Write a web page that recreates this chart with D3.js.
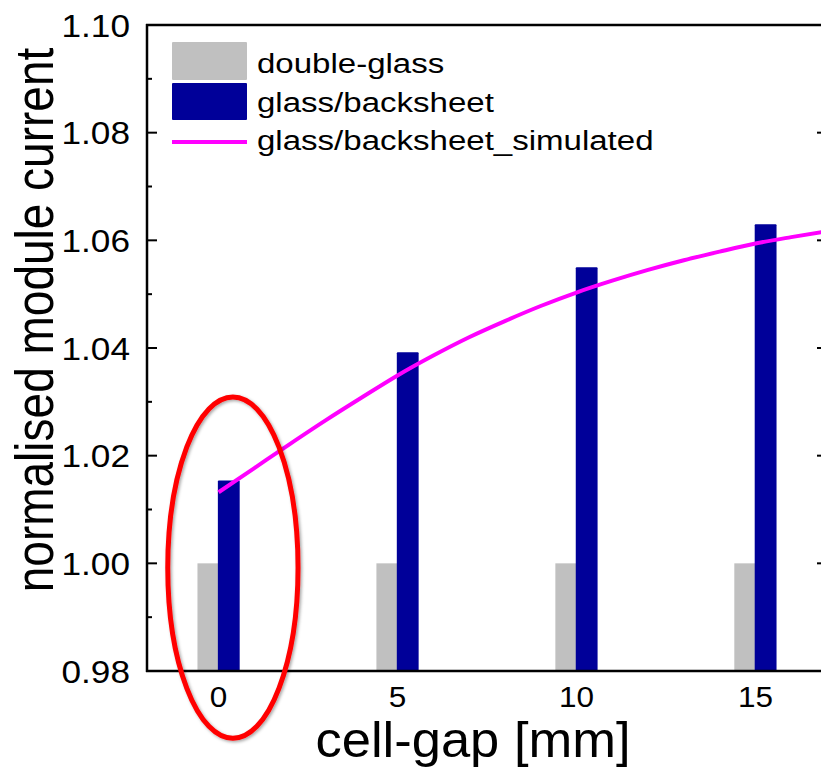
<!DOCTYPE html>
<html>
<head>
<meta charset="utf-8">
<script src="https://cdn.jsdelivr.net/npm/d3@7"></script>
<style>
  body { margin: 0; background: #fff; }
  text { font-family: "Liberation Sans", Arial, sans-serif; fill: #000; }
</style>
</head>
<body>
<svg id="chart" width="821" height="770"></svg>
<script>
// cell gap [mm]
const gaps = [0, 5, 10, 15];
const doubleGlass = [1.0, 1.0, 1.0, 1.0];
const glassBacksheet = [1.0154, 1.0392, 1.055, 1.063];

// simulated curve
const simGap = [0, 1, 2, 3, 4, 5, 6, 7, 8, 9, 10, 11, 12, 13, 14, 15, 16, 17];
const simValue = [1.0132, 1.0177, 1.0222, 1.0266, 1.0308, 1.0349, 1.0386, 1.042,
  1.045, 1.0478, 1.0503, 1.0525, 1.0545, 1.0563, 1.0579, 1.0594, 1.0606, 1.0617];

const yMajor = [0.98, 1.0, 1.02, 1.04, 1.06, 1.08, 1.1];
const yMinor = [0.99, 1.01, 1.03, 1.05, 1.07, 1.09];

const legendItems = ["double-glass", "glass/backsheet", "glass/backsheet_simulated"];

// red ellipse around the 0 mm group: centre in data units, radii in data units
const highlight = { gap: 0.4, value: 0.9992, rGap: 1.82, rValue: 0.0317 };

const grey = "#c0c0c0";
const blue = "#000099";
const magenta = "#ff00ff";

const svg = d3.select("#chart");
const plotLeft = 147, plotRight = 827, plotTop = 25, plotBottom = 671;

const x = d3.scaleLinear().domain([-2, 17]).range([plotLeft, plotRight]);
const y = d3.scaleLinear().domain([0.98, 1.1]).range([plotBottom, plotTop]);

const defs = svg.append("defs");
defs.append("clipPath").attr("id", "plot")
  .append("rect")
  .attr("x", plotLeft).attr("y", plotTop)
  .attr("width", plotRight - plotLeft).attr("height", plotBottom - plotTop);

const shadow = defs.append("filter").attr("id", "shadow")
  .attr("x", "-20%").attr("y", "-20%").attr("width", "140%").attr("height", "140%");
shadow.append("feDropShadow")
  .attr("dx", 1.5).attr("dy", 1.5)
  .attr("stdDeviation", 1.5)
  .attr("flood-color", "#000")
  .attr("flood-opacity", 0.35);

// bars
const barW = 0.59;
svg.append("g")
  .selectAll("rect")
  .data(gaps)
  .join("rect")
  .attr("x", (d) => x(d - barW))
  .attr("y", (d, i) => y(doubleGlass[i]))
  .attr("width", x(barW) - x(0))
  .attr("height", (d, i) => y(0.98) - y(doubleGlass[i]))
  .attr("fill", grey);

svg.append("g")
  .selectAll("rect")
  .data(gaps)
  .join("rect")
  .attr("x", (d) => x(d - 0.02))
  .attr("y", (d, i) => y(glassBacksheet[i]))
  .attr("width", x(barW + 0.02) - x(0))
  .attr("height", (d, i) => y(0.98) - y(glassBacksheet[i]))
  .attr("rx", 1)
  .attr("fill", blue);

// simulated line
const line = d3.line()
  .x((d, i) => x(simGap[i]))
  .y((d) => y(d))
  .curve(d3.curveMonotoneX);

svg.append("path")
  .datum(simValue)
  .attr("clip-path", "url(#plot)")
  .attr("d", line)
  .attr("fill", "none")
  .attr("stroke", magenta)
  .attr("stroke-width", 4);

// frame
const axisW = 2.5;
svg.append("line")
  .attr("x1", plotLeft).attr("y1", plotTop - 1).attr("x2", plotLeft).attr("y2", plotBottom + 1)
  .attr("stroke", "#000").attr("stroke-width", axisW);
svg.append("line")
  .attr("x1", plotLeft - 1).attr("y1", plotBottom).attr("x2", plotRight).attr("y2", plotBottom)
  .attr("stroke", "#000").attr("stroke-width", axisW);
svg.append("line")
  .attr("x1", plotLeft - 1).attr("y1", plotTop).attr("x2", plotRight).attr("y2", plotTop)
  .attr("stroke", "#000").attr("stroke-width", axisW);
svg.append("line")
  .attr("x1", plotRight).attr("y1", plotTop).attr("x2", plotRight).attr("y2", plotBottom)
  .attr("stroke", "#000").attr("stroke-width", axisW);

// left ticks (inward) and labels
svg.append("g")
  .selectAll("line")
  .data(yMajor)
  .join("line")
  .attr("x1", plotLeft).attr("x2", plotLeft + 10)
  .attr("y1", (d) => y(d)).attr("y2", (d) => y(d))
  .attr("stroke", "#000").attr("stroke-width", 2);

svg.append("g")
  .selectAll("line")
  .data(yMinor)
  .join("line")
  .attr("x1", plotLeft).attr("x2", plotLeft + 5)
  .attr("y1", (d) => y(d)).attr("y2", (d) => y(d))
  .attr("stroke", "#000").attr("stroke-width", 2);

// right ticks, major only
svg.append("g")
  .selectAll("line")
  .data(yMajor)
  .join("line")
  .attr("x1", plotRight).attr("x2", plotRight - 10)
  .attr("y1", (d) => y(d)).attr("y2", (d) => y(d))
  .attr("stroke", "#000").attr("stroke-width", 2);

svg.append("g")
  .selectAll("text")
  .data(yMajor)
  .join("text")
  .attr("transform", (d) => `translate(130,${y(d) + 11.5}) scale(1.1,1)`)
  .attr("text-anchor", "end")
  .attr("font-size", 32)
  .text((d) => d3.format(".2f")(d));

// x tick labels, no tick marks in the original
svg.append("g")
  .selectAll("text")
  .data(gaps)
  .join("text")
  .attr("transform", (d) => `translate(${x(d)},${plotBottom + 36}) scale(1.05,1)`)
  .attr("text-anchor", "middle")
  .attr("font-size", 30)
  .text((d) => d);

// axis titles
svg.append("text")
  .attr("transform", "translate(473,757) scale(1.05,1)")
  .attr("text-anchor", "middle")
  .attr("font-size", 50)
  .text("cell-gap [mm]");

svg.append("text")
  .attr("transform", "translate(53,320) scale(1.15,1) rotate(-90)")
  .attr("text-anchor", "middle")
  .attr("font-size", 46)
  .text("normalised module current");

// legend
const legend = svg.append("g").attr("transform", "translate(172,42)");
const rowH = 38.5;
legend.append("rect")
  .attr("x", 0).attr("y", 0).attr("width", 75).attr("height", 38)
  .attr("rx", 1).attr("fill", grey);
legend.append("rect")
  .attr("x", 0).attr("y", 41).attr("width", 75).attr("height", 37)
  .attr("rx", 1).attr("fill", blue);
legend.append("line")
  .attr("x1", 0).attr("x2", 75).attr("y1", 100).attr("y2", 100)
  .attr("stroke", magenta).attr("stroke-width", 4);

legend.selectAll("text")
  .data(legendItems)
  .join("text")
  .attr("transform", (d, i) => `translate(85,${31 + i * rowH}) scale(1.18,1)`)
  .attr("font-size", 28)
  .text((d) => d);

// highlight ellipse
svg.append("ellipse")
  .attr("cx", x(highlight.gap))
  .attr("cy", y(highlight.value))
  .attr("rx", x(highlight.rGap) - x(0))
  .attr("ry", y(0.98) - y(0.98 + highlight.rValue))
  .attr("fill", "none")
  .attr("stroke", "#ff0000")
  .attr("stroke-width", 5)
  .attr("filter", "url(#shadow)");
</script>
</body>
</html>
